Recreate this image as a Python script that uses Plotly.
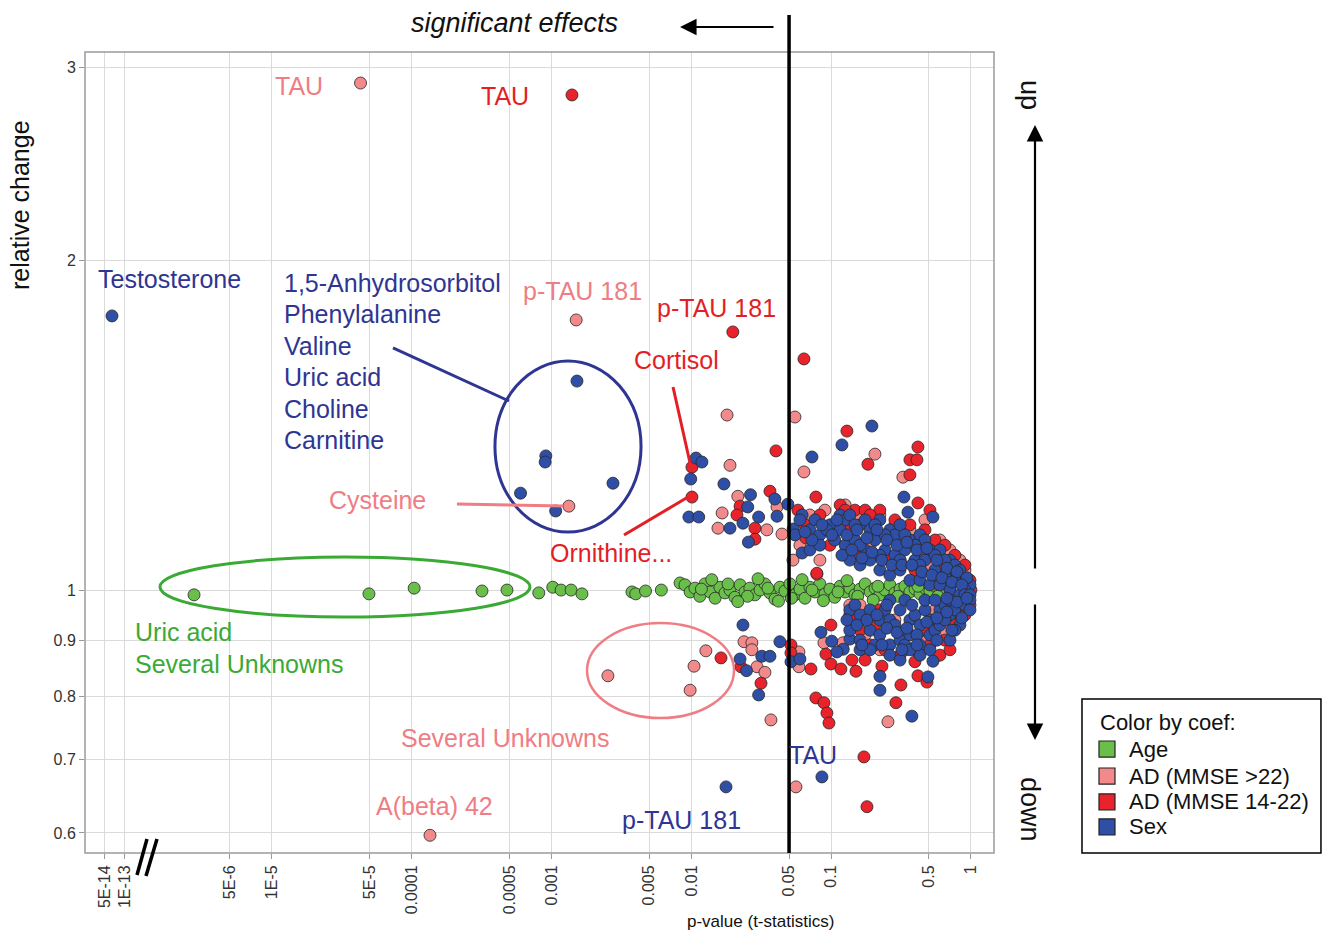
import plotly.graph_objects as go

# ---------------- data (p-value, relative change) ----------------
AGE = [(2.77e-6,0.990),(4.94e-5,0.992),(1.04e-4,1.004),(3.18e-4,0.998),(4.8e-4,1.000),(8.1e-4,0.994),
       (1.02e-3,1.006),(1.17e-3,1.000),(1.38e-3,1.000),(1.65e-3,0.992),(3.76e-3,0.996),(4.0e-3,0.992),
       (4.7e-3,0.998),(6.1e-3,1.000),(8.3e-3,1.015),
       (0.0090,1.011),(0.0098,0.996),(0.0106,1.004),(0.0115,0.987),(0.0125,1.013),(0.0136,0.996),
       (0.0148,0.983),(0.0160,1.006),(0.0174,0.994),(0.0189,1.000),(0.0205,0.985),(0.0223,1.011),
       (0.0242,0.996),(0.0262,1.004),(0.0285,0.990),(0.0310,1.000),(0.0336,1.013),(0.0365,0.994),
       (0.0396,0.981),(0.0430,1.006),(0.0467,0.998),(0.0507,1.013),(0.0551,0.990),(0.0598,1.002),
       (0.065,0.983),(0.0705,1.006),(0.0766,0.996),(0.0831,1.013),(0.0903,0.992),(0.098,1.002),
       (0.106,0.985),(0.116,1.008),(0.126,0.996),(0.136,1.004),(0.148,0.990),(0.161,1.002),
       (0.175,1.013),(0.190,0.996),(0.206,1.004),(0.223,0.990),(0.243,1.000),(0.263,1.011),
       (0.286,0.994),(0.311,1.002),(0.337,1.008),(0.366,0.996),(0.398,1.002),(0.432,0.992),
       (0.469,1.004),(0.509,0.998),(0.553,1.008),(0.600,0.994),(0.652,1.000),(0.708,1.004),
       (0.0118,1.002),(0.0183,1.013),(0.0252,0.987),(0.0353,1.004),(0.052,0.983),(0.073,1.000),
       (0.112,0.996),(0.155,0.987),(0.216,1.008),(0.30,0.987),(0.418,1.008),(0.58,0.987),
       (0.0140,1.022),(0.0215,0.976),(0.030,1.024),(0.042,0.977),(0.062,1.022),(0.088,0.978),
       (0.13,1.020),(0.20,0.979)]

AD_MILD = [(4.3e-5,2.905),(1.5e-3,1.765),(1.33e-3,1.193),(0.018,1.445),(0.0189,1.30),(0.0166,1.176),
           (0.0155,1.139),(2.53e-3,0.835),(9.8e-3,0.81),(0.01045,0.852),(0.0127,0.88),(1.35e-4,0.597),
           (0.0238,0.897),(0.0271,0.895),(0.0271,0.882),(0.0295,0.851),(0.0336,0.841),(0.0371,0.761),
           (0.056,0.661),(0.0588,0.878),(0.0588,0.851),(0.0888,0.895),(0.1215,0.895),(0.2549,0.758),
           (0.3975,0.884),(0.0215,1.218),(0.041,1.191),(0.0347,1.135),(0.0445,1.125),(0.0551,1.439),
           (0.0639,1.282),(0.2057,1.331),(0.326,1.268),(0.0533,1.065),(0.0791,1.034),
           (0.0705,1.171),(0.0903,1.183),(0.126,1.196),(0.161,1.171),(0.223,1.171),(0.286,1.147),
           (0.366,1.135),(0.469,1.159),(0.600,1.111),(0.708,1.088),(0.834,1.065),(0.906,1.043),
           (0.106,1.135),(0.190,1.099),(0.311,1.065),(0.509,1.054),(0.0598,1.099),(0.0831,1.065),
           (0.136,0.969),(0.161,0.969),(0.175,0.910),(0.223,0.882),(0.337,0.882),(0.469,0.900),
           (0.652,0.919),(0.768,0.949),(0.906,0.979),(0.286,0.939),(0.553,0.959)]

AD_MOD = [(1.4e-3,2.833),(0.0198,1.721),(0.0639,1.626),(0.0101,1.295),(0.0101,1.216),(0.0163,0.867),
          (0.0226,0.851),(0.0315,0.822),(0.0403,1.34),(0.0778,1.216),(0.1297,1.397),(0.1833,1.303),
          (0.4176,1.351),(0.366,1.315),(0.411,1.315),(0.366,1.274),(0.4176,1.201),(0.509,1.183),
          (0.0223,1.193),(0.0365,1.231),(0.0212,1.171),(0.0285,1.139),(0.0285,1.113),(0.0579,1.183),
          (0.066,1.116),(0.079,1.036),(0.0516,0.891),(0.0516,0.876),(0.0717,0.847),(0.0778,0.797),
          (0.0888,0.789),(0.0933,0.772),(0.0965,0.756),(0.1716,0.704),(0.1804,0.634),(0.0997,0.929),
          (0.0918,0.874),(0.0997,0.856),(0.1175,0.847),(0.1505,0.843),(0.1409,0.863),(0.2309,0.852),
          (0.3157,0.819),(0.2906,0.789),(0.3975,0.86),(0.4176,0.835),(0.4844,0.824),
          (0.065,1.147),(0.0831,1.171),(0.116,1.196),(0.148,1.183),(0.175,1.183),(0.223,1.183),
          (0.286,1.159),(0.366,1.147),(0.469,1.135),(0.553,1.111),(0.652,1.099),(0.768,1.076),
          (0.906,1.054),(0.984,1.021),(0.136,1.135),(0.206,1.123),(0.311,1.099),(0.469,1.076),
          (0.652,1.054),(0.098,1.099),(0.161,1.076),(0.263,1.065),(0.398,1.043),(0.708,1.032),
          (0.190,1.171),(0.126,1.183),
          (0.136,0.949),(0.161,0.919),(0.190,0.891),(0.243,0.882),(0.311,0.872),(0.398,0.882),
          (0.509,0.891),(0.652,0.900),(0.768,0.929),(0.834,0.949),(0.984,0.969),(0.206,0.929),
          (0.337,0.910),(0.553,0.929),(0.834,0.969),(0.600,0.872),(0.175,0.863),(1.0,1.0),
          (0.906,0.949),(0.148,0.939),(0.223,0.959),(0.469,0.919),(0.708,0.882)]

SEX = [(1.52e-3,1.552),(9.1e-4,1.326),(9.0e-4,1.309),(6.0e-4,1.226),(1.07e-3,1.181),(2.75e-3,1.252),
       (0.0108,1.32),(0.0119,1.309),(0.0099,1.263),(0.0096,1.166),(0.0113,1.166),(0.0171,1.25),
       (0.0189,1.139),(0.0234,1.151),(0.0265,1.222),(0.0253,1.191),(0.0396,1.211),(0.0303,1.166),
       (0.0410,1.168),(0.0256,1.106),(0.049,1.198),(0.0535,1.137),(0.0620,1.171),(0.0620,1.081),
       (0.0729,1.323),(0.1195,1.357),(0.1957,1.412),(0.3317,1.216),(0.3543,1.178),(0.535,1.166),
       (0.0234,0.929),(0.0223,0.865),(0.0248,0.844),(0.0319,0.870),(0.0365,0.870),(0.0303,0.802),
       (0.043,0.897),(0.0177,0.661),(0.0516,0.86),(0.0598,0.865),(0.0859,0.675),(0.0846,0.915),
       (0.101,0.898),(0.122,0.883),(0.110,0.878),(0.1363,0.902),(0.2234,0.834),(0.2234,0.81),
       (0.378,0.767),(0.4925,0.833),(0.535,0.861),
       (0.0598,1.159),(0.0705,1.135),(0.0766,1.159),(0.0831,1.123),(0.098,1.147),(0.116,1.171),
       (0.126,1.159),(0.136,1.171),(0.161,1.147),(0.175,1.159),(0.190,1.135),(0.223,1.159),
       (0.263,1.135),(0.286,1.123),(0.311,1.147),(0.366,1.111),(0.432,1.123),(0.469,1.111),
       (0.509,1.088),(0.600,1.088),(0.708,1.065),(0.768,1.054),(0.834,1.043),(0.906,1.021),
       (0.984,1.011),(0.106,1.111),(0.126,1.099),(0.148,1.111),(0.175,1.088),(0.206,1.111),
       (0.243,1.088),(0.286,1.076),(0.337,1.088),(0.398,1.065),(0.469,1.065),(0.553,1.043),
       (0.652,1.032),(0.768,1.021),(0.906,1.000),(0.136,1.065),(0.161,1.054),(0.190,1.065),
       (0.223,1.043),(0.263,1.032),(0.311,1.043),(0.366,1.021),(0.432,1.021),(0.509,1.011),
       (0.600,1.011),(0.708,1.000),(0.834,0.990),(0.0551,1.123),(0.0705,1.088),(0.0831,1.099),
       (0.148,1.147),(0.206,1.147),(0.243,1.123),(0.337,1.123),(0.398,1.099),(0.553,1.076),
       (0.652,1.065),(0.161,1.099),(0.223,1.076),(0.311,1.065),(0.432,1.054),(0.116,1.135),
       (0.0933,1.135),(0.110,1.159),(0.1297,1.123),(0.153,1.135),(0.1804,1.116),(0.2127,1.135),
       (0.2506,1.111),(0.2955,1.099),(0.3484,1.106),(0.411,1.088),(0.4844,1.092),(0.571,1.065),
       (0.673,1.047),(0.794,1.039),(0.936,1.026),(0.1195,1.076),(0.1409,1.088),(0.166,1.070),
       (0.1957,1.083),(0.2309,1.065),(0.2722,1.054),(0.3209,1.054),(0.378,1.054),(0.446,1.039),
       (0.526,1.032),(0.620,1.026),(0.731,1.017),(0.862,1.011),(0.1013,1.123),(0.0859,1.147),
       (0.0729,1.111),(0.065,1.130),
       (0.136,0.959),(0.148,0.969),(0.161,0.949),(0.190,0.959),(0.223,0.939),(0.243,0.959),
       (0.263,0.939),(0.311,0.959),(0.366,0.939),(0.398,0.949),(0.432,0.929),(0.509,0.939),
       (0.600,0.959),(0.652,0.969),(0.708,0.979),(0.906,0.990),(0.984,0.990),(0.136,0.919),
       (0.161,0.900),(0.190,0.919),(0.206,0.891),(0.223,0.910),(0.263,0.891),(0.311,0.900),
       (0.337,0.891),(0.366,0.910),(0.432,0.891),(0.509,0.910),(0.553,0.919),(0.600,0.929),
       (0.708,0.949),(0.768,0.959),(0.906,0.969),(0.984,0.979),(0.161,0.882),(0.190,0.882),
       (0.263,0.872),(0.311,0.863),(0.432,0.872),(0.509,0.882),(0.708,0.900),(0.834,0.929),
       (0.984,0.959),(0.286,0.929),(0.469,0.959),(0.652,0.939),(0.768,0.919),(0.366,0.882),
       (0.263,0.979),(0.337,0.979),(0.469,0.979),(0.553,0.979),
       (0.1297,0.939),(0.153,0.929),(0.1804,0.939),(0.2127,0.949),(0.2506,0.923),(0.2955,0.915),
       (0.3484,0.923),(0.411,0.910),(0.4844,0.935),(0.571,0.943),(0.673,0.955),(0.794,0.975),
       (0.936,0.983),(0.166,0.891),(0.2309,0.891),(0.3209,0.882),(0.411,0.891),(0.571,0.900),
       (0.731,0.919),(0.862,0.943),(0.2506,0.969),(0.378,0.969),(0.673,0.983)]

TESTOSTERONE = [(6.4e-14, 1.78)]

X_LEFT_TICKS = [5e-14, 1e-13]
X_LEFT_LABELS = ["5E-14", "1E-13"]
X_TICKS = [5e-6, 1e-5, 5e-5, 1e-4, 5e-4, 1e-3, 5e-3, 0.01, 0.05, 0.1, 0.5, 1]
X_LABELS = ["5E-6", "1E-5", "5E-5", "0.0001", "0.0005", "0.001", "0.005", "0.01", "0.05", "0.1", "0.5", "1"]
Y_TICKS = [0.6, 0.7, 0.8, 0.9, 1, 2, 3]
Y_LABELS = ["0.6", "0.7", "0.8", "0.9", "1", "2", "3"]
SIG_LEVEL = 0.05

LEGEND_TITLE = "Color by coef:"
LEGEND_NAMES = ["Age", "AD (MMSE >22)", "AD (MMSE 14-22)", "Sex"]

# ---------------- style ----------------
GREEN = "#6abf4b"
PINK = "#f28a8c"
RED = "#e8232b"
BLUE = "#2f4fa6"
T_GREEN = "#3aaa35"
T_PINK = "#ef7d84"
T_RED = "#e31e25"
T_BLUE = "#2e3592"
FONT = "Arial, Liberation Sans, sans-serif"
OUTLINE = dict(color="rgba(40,40,40,0.9)", width=0.9)
LBL = 25

fig = go.Figure()

def add_series(data, color, xa="x2"):
    fig.add_trace(go.Scatter(
        x=[d[0] for d in data], y=[d[1] for d in data], mode="markers",
        marker=dict(size=12, color=color, line=OUTLINE),
        xaxis=xa, yaxis="y", showlegend=False, hoverinfo="x+y"))

add_series(AGE, GREEN)
add_series(AD_MILD, PINK)
add_series(AD_MOD, RED)
add_series(SEX, BLUE)
add_series(TESTOSTERONE, BLUE, xa="x")

axis_common = dict(type="log", showgrid=True, gridcolor="#dadada", gridwidth=1, zeroline=False,
                   showline=False, ticks="outside", ticklen=5, tickcolor="#999",
                   tickfont=dict(family=FONT, size=16, color="#333"))

BREAK = 0.0682
fig.update_layout(
    width=1324, height=933,
    margin=dict(l=85, r=330, t=52, b=80),
    paper_bgcolor="white", plot_bgcolor="white",
    font=dict(family=FONT),
    showlegend=False,
    xaxis=dict(axis_common, domain=[0, BREAK], range=[-13.60, -12.667], anchor="y",
               tickvals=X_LEFT_TICKS, ticktext=X_LEFT_LABELS, tickangle=-90),
    xaxis2=dict(axis_common, domain=[BREAK, 1], range=[-5.894, 0.165], anchor="y",
                tickvals=X_TICKS, ticktext=X_LABELS, tickangle=-90),
    yaxis=dict(axis_common, range=[-0.2402, 0.4915], anchor="x",
               tickvals=Y_TICKS, ticktext=Y_LABELS),
)

shapes = []
shapes.append(dict(type="rect", xref="paper", yref="paper", x0=0, x1=1, y0=0, y1=1,
                   line=dict(color="#9a9a9a", width=1.5), layer="above"))
shapes.append(dict(type="line", xref="x2", yref="paper", x0=SIG_LEVEL, x1=SIG_LEVEL, y0=0, y1=1.0462,
                   line=dict(color="black", width=3.5)))
shapes.append(dict(type="line", xref="paper", yref="paper", x0=0.0682, y0=0.0175, x1=0.0572, y1=-0.0275,
                   line=dict(color="black", width=3.5)))
shapes.append(dict(type="line", xref="paper", yref="paper", x0=0.0792, y0=0.0175, x1=0.0671, y1=-0.0287,
                   line=dict(color="black", width=3.5)))
shapes.append(dict(type="circle", xref="paper", yref="paper", x0=0.4510, x1=0.6117, y0=0.4007, y1=0.6142,
                   line=dict(color=T_BLUE, width=3)))
shapes.append(dict(type="circle", xref="paper", yref="paper", x0=0.0825, x1=0.4895, y0=0.2946, y1=0.3695,
                   line=dict(color=T_GREEN, width=3)))
shapes.append(dict(type="circle", xref="paper", yref="paper", x0=0.5523, x1=0.7140, y0=0.1685, y1=0.2871,
                   line=dict(color=T_PINK, width=2.5)))
shapes.append(dict(type="line", xref="paper", yref="paper", x0=0.3388, y0=0.6305, x1=0.4664, y1=0.5643,
                   line=dict(color=T_BLUE, width=3)))
shapes.append(dict(type="line", xref="paper", yref="paper", x0=0.4092, y0=0.4357, x1=0.5259, y1=0.4332,
                   line=dict(color=T_PINK, width=3)))
shapes.append(dict(type="line", xref="paper", yref="paper", x0=0.6469, y0=0.5818, x1=0.6656, y1=0.4869,
                   line=dict(color=T_RED, width=3)))
shapes.append(dict(type="line", xref="paper", yref="paper", x0=0.5930, y0=0.3970, x1=0.6634, y1=0.4444,
                   line=dict(color=T_RED, width=3)))

# legend (box, colour squares)
shapes.append(dict(type="rect", xref="paper", yref="paper", x0=1.0968, x1=1.3597, y0=0.0, y1=0.1923,
                   line=dict(color="black", width=1.5), fillcolor="white"))
LEG_Y = [0.1298, 0.0961, 0.0637, 0.0325]
for yc, col in zip(LEG_Y, [GREEN, PINK, RED, BLUE]):
    shapes.append(dict(type="rect", xref="paper", yref="paper", x0=1.1155, x1=1.1331,
                       y0=yc - 0.0100, y1=yc + 0.0100, fillcolor=col, line=dict(color="#222", width=1.2)))
fig.update_layout(shapes=shapes)

def label(text, x, y, color, size=LBL, xanchor="center", **kw):
    fig.add_annotation(text=text, x=x, y=y, xref="paper", yref="paper", showarrow=False,
                       xanchor=xanchor, yanchor="middle",
                       font=dict(family=FONT, size=size, color=color), **kw)

label("TAU", 0.2354, 0.9576, T_PINK)
label("TAU", 0.4620, 0.9451, T_RED)
label("Testosterone", 0.0935, 0.7166, T_BLUE)
for txt, yy in zip(["1,5-Anhydrosorbitol", "Phenylalanine", "Valine", "Uric acid", "Choline", "Carnitine"],
                   [0.7116, 0.6729, 0.6330, 0.5943, 0.5543, 0.5156]):
    label(txt, 0.2167, yy, T_BLUE, xanchor="left")
label("p-TAU 181", 0.5468, 0.7016, T_PINK)
label("p-TAU 181", 0.6942, 0.6804, T_RED)
label("Cortisol", 0.6502, 0.6155, T_RED)
label("Cysteine", 0.3223, 0.4407, T_PINK)
label("Ornithine...", 0.5787, 0.3745, T_RED)
label("Uric acid", 0.0528, 0.2759, T_GREEN, xanchor="left")
label("Several Unknowns", 0.0528, 0.2360, T_GREEN, xanchor="left")
label("Several Unknowns", 0.4620, 0.1436, T_PINK)
label("A(beta) 42", 0.3850, 0.0587, T_PINK)
label("p-TAU 181", 0.6557, 0.0412, T_BLUE)
label("TAU", 0.8009, 0.1223, T_BLUE)
label("<i>significant effects</i>", 0.4730, 1.0362, "#111", size=27)
label("up", 1.0396, 0.9463, "#111", size=27, textangle=90)
label("down", 1.0396, 0.0537, "#111", size=27, textangle=90)
label("relative change", -0.0715, 0.809, "#111", size=25, textangle=-90)
label("p-value (t-statistics)", 0.7426, -0.0861, "#111", size=17)

label(LEGEND_TITLE, 1.1144, 0.1623, "#111", size=22, xanchor="left")
for yc, name in zip(LEG_Y, LEGEND_NAMES):
    label(name, 1.1463, yc, "#111", size=22, xanchor="left")

# arrows
fig.add_annotation(x=1.0451, y=0.9089, xref="paper", yref="paper", ax=0, ay=445, axref="pixel", ayref="pixel",
                   showarrow=True, arrowhead=2, arrowsize=1.5, arrowwidth=2.2, arrowcolor="black", text="")
fig.add_annotation(x=1.0451, y=0.1411, xref="paper", yref="paper", ax=0, ay=-137, axref="pixel", ayref="pixel",
                   showarrow=True, arrowhead=2, arrowsize=1.5, arrowwidth=2.2, arrowcolor="black", text="")
fig.add_annotation(x=0.6546, y=1.0312, xref="paper", yref="paper", ax=95, ay=0, axref="pixel", ayref="pixel",
                   showarrow=True, arrowhead=2, arrowsize=1.5, arrowwidth=2.2, arrowcolor="black", text="")

fig.write_html("out.html", config={"displayModeBar": False},
               post_script="document.body.style.margin='0px';")
